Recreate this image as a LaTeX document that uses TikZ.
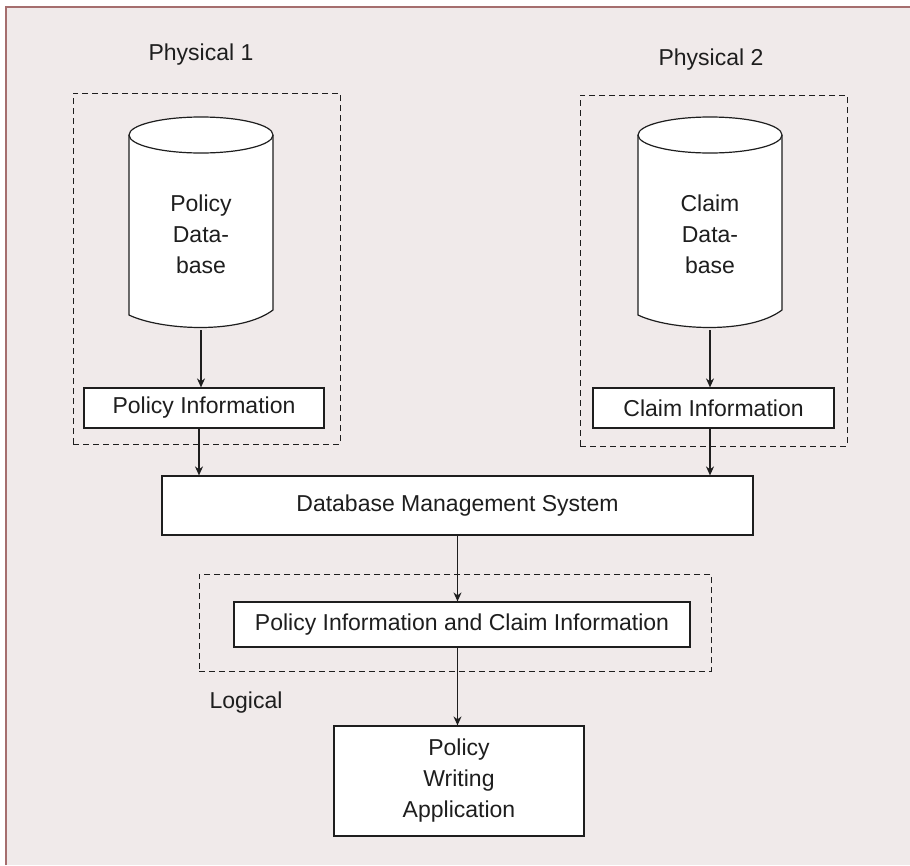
\documentclass[tikz,border=0pt]{standalone}
\usepackage{fontspec}
\setmainfont{Liberation Sans}
\usetikzlibrary{arrows.meta}
\definecolor{bgc}{HTML}{F0EAEA}
\definecolor{framec}{HTML}{A56E6E}
\definecolor{linec}{HTML}{1E1E1E}
\newcommand\mycyl[1]{%
  \draw[dbshape] (#1-72,135) -- (#1-72,315)
    .. controls (#1-41,330) and (#1+39,335) .. (#1+72,310) -- (#1+72,135)
    .. controls (#1+72,125.06) and (#1+39.77,117) .. (#1,117)
    .. controls (#1-39.77,117) and (#1-72,125.06) .. (#1-72,135) -- cycle;
  \draw[dbline] (#1-72,135) .. controls (#1-72,144.94) and (#1-39.77,153) .. (#1,153)
    .. controls (#1+39.77,153) and (#1+72,144.94) .. (#1+72,135);
}
\begin{document}
\begin{tikzpicture}[x=1pt,y=-1pt,
  every node/.style={font=\fontsize{23}{31}\selectfont, text=linec},
  box/.style={draw=linec, line width=1.2pt, fill=white, inner sep=0pt},
  group/.style={draw=linec, line width=1pt, dash pattern=on 6pt off 4pt, inner sep=0pt},
  conn/.style={draw=linec, line width=1.2pt, -{Stealth[length=9pt,width=8pt]}},
  dbshape/.style={draw=linec, line width=1.2pt, fill=white},
  dbline/.style={draw=linec, line width=1.2pt},
]
\useasboundingbox (0,0) rectangle (910,865);
\fill[bgc] (6,7) rectangle (910,865);
\draw[framec, line width=1.5pt] (6,865) -- (6,7) -- (910,7);

% groups
\node[group, minimum width=267pt, minimum height=351pt] (g1) at (206.5,268.5) {};
\node[group, minimum width=267pt, minimum height=351pt] (g2) at (713.5,270.5) {};
\node[group, minimum width=512pt, minimum height=97pt] (g3) at (455,622.5) {};

% labels
\node[anchor=base] (l1) at (201,60) {Physical 1};
\node[anchor=base] (l2) at (711,65) {Physical 2};
\node[anchor=base] (l3) at (246,708) {Logical};

% databases
\mycyl{201}
\mycyl{710}
\node[minimum width=144pt, minimum height=213pt, inner sep=0pt] (pdb) at (201,223.5) {};
\node[minimum width=144pt, minimum height=213pt, inner sep=0pt] (cdb) at (710,223.5) {};
\node[align=center] (pdbt) at (201,234) {Policy\\Data-\\base};
\node[align=center] (cdbt) at (710,234) {Claim\\Data-\\base};

% boxes
\node[box, minimum width=240pt, minimum height=40pt] (pinfo) at (204,408) {Policy Information};
\node[box, minimum width=241pt, minimum height=40pt] (cinfo) at (713.5,408) {Claim Information};
\node[box, minimum width=591pt, minimum height=59pt] (dbms) at (457.5,505.5) {Database Management System};
\node[box, minimum width=456pt, minimum height=45pt] (pici) at (462,624.5) {Policy Information and Claim Information};
\node[box, minimum width=250pt, minimum height=110pt, align=center] (app) at (459,781) {Policy\\Writing\\Application};

% connectors
\draw[conn] (pdb.south) -- (pdb.south |- pinfo.north);
\draw[conn] (cdb.south) -- (cdb.south |- cinfo.north);
\draw[conn] ([xshift=-5pt]pinfo.south) coordinate (a1) -- (a1 |- dbms.north);
\draw[conn] (cdb.south |- cinfo.south) -- (cdb.south |- dbms.north);
\draw[conn] (dbms.south) -- (dbms.south |- pici.north);
\draw[conn] (dbms.south |- pici.south) -- (dbms.south |- app.north);
\end{tikzpicture}
\end{document}
